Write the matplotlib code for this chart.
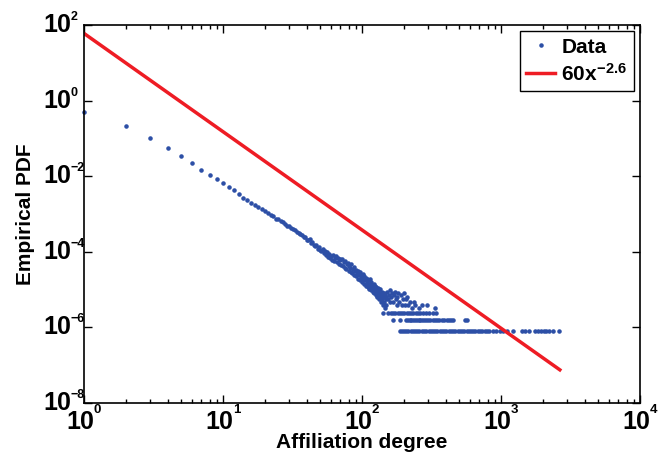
import matplotlib
matplotlib.use("Agg")
import matplotlib.pyplot as plt
import matplotlib.transforms as mtrans
from matplotlib.ticker import LogLocator, NullFormatter, NullLocator, FixedLocator
import numpy as np

plt.rcParams["font.family"] = ["Liberation Sans", "DejaVu Sans"]
plt.rcParams["font.weight"] = "bold"
plt.rcParams["mathtext.fontset"] = "custom"
plt.rcParams["mathtext.rm"] = "Liberation Sans:bold"
plt.rcParams["mathtext.bf"] = "Liberation Sans:bold"
plt.rcParams["mathtext.it"] = "Liberation Sans:bold"

# empirical pdf for low degrees
head_deg = list(range(1, 60))
head_pdf = [0.49, 0.21, 0.10, 0.056, 0.034, 0.022, 0.015, 0.011, 0.0082, 0.0065,
            0.0051, 0.0042, 0.0033, 0.0027, 0.0023, 0.0019, 0.0017, 0.0015, 1.32e-3, 1.17e-3,
            1.07e-3, 9.3e-4, 8.7e-4, 7.6e-4, 7.2e-4, 6.5e-4, 6.0e-4, 5.6e-4, 4.9e-4, 4.7e-4,
            4.2e-4, 4.0e-4, 3.8e-4, 3.3e-4, 3.2e-4, 2.95e-4, 2.8e-4, 2.45e-4, 2.5e-4, 2.1e-4,
            2.0e-4, 2.15e-4, 1.7e-4, 1.8e-4, 1.55e-4, 1.4e-4, 1.55e-4, 1.2e-4, 1.35e-4, 1.12e-4,
            1.05e-4, 1.2e-4, 9.3e-5, 1.04e-4, 8.3e-5, 9.6e-5, 7.5e-5, 8.8e-5, 6.9e-5]

# higher degrees as node counts; one node = one pdf step
unit = 8e-7
mid_deg = list(range(60, 151))
mid_count = [95, 78, 104, 70, 88, 98, 66, 84, 60, 80,
             74, 56, 82, 52, 66, 48, 70, 44, 58, 62,
             40, 54, 46, 36, 58, 34, 44, 30, 50, 38,
             28, 42, 33, 24, 38, 30, 22, 36, 26, 31,
             20, 32, 24, 18, 28, 22, 16, 26, 19, 24,
             15, 22, 18, 13, 24, 16, 12, 20, 14, 17,
             11, 18, 13, 10, 16, 12, 9, 15, 11, 8,
             14, 10, 7, 12, 9, 13, 6, 10, 8, 11,
             7, 9, 5, 10, 6, 8, 4, 9, 7, 5, 8]
scatter_deg = [152, 154, 156, 158, 160, 162, 165, 167, 170, 172, 175, 178, 180, 183, 186,
               190, 193, 196, 200, 204, 208, 212, 216, 222, 228, 235, 242, 255, 270, 293, 335]
scatter_count = [11, 7, 9, 6, 12, 8, 10, 6, 9, 11, 7, 5, 8, 10, 6,
                 9, 5, 7, 10, 5, 7, 8, 5, 6, 4, 6, 5, 4, 5, 5, 4]
deg_count3 = [142, 155, 161, 168, 174, 181, 188, 195, 202, 210, 218, 226, 234, 243, 252,
              262, 275, 290, 305, 322, 340]
deg_count2 = [167, 188, 207, 214, 220, 227, 233, 240, 247, 255, 263, 271, 280, 290, 300,
              311, 322, 334, 346, 360, 374, 390, 406, 422, 440, 450, 550, 570]
deg_count1 = [187, 194, 201, 208, 216, 224, 232, 241, 250, 259, 269, 279, 290, 301, 312,
              324, 336, 349, 362, 376, 390, 405, 420, 436, 452, 469, 487, 505, 524, 544,
              565, 586, 608, 631, 655, 680, 706, 733, 761, 790, 825, 870, 920, 980, 1040,
              1100, 1210, 1420, 1500, 1580, 1760, 1850, 1940, 2030, 2120, 2210, 2350, 2620]

fit_coef = 60
fit_exp = -2.6
fit_x = [1, 2650]

x_decades = [0, 1, 2, 3, 4]
y_decades = [-8, -6, -4, -2, 0, 2]

deg = np.array(head_deg + mid_deg + scatter_deg + deg_count3 + deg_count2 + deg_count1, float)
pdf = np.concatenate([
    head_pdf,
    np.array(mid_count + scatter_count) * unit,
    np.full(len(deg_count3), 3 * unit),
    np.full(len(deg_count2), 2 * unit),
    np.full(len(deg_count1), 1 * unit),
])

fig = plt.figure(figsize=(6.65, 4.59), dpi=100)
ax = fig.add_axes([0.1263, 0.122, 0.8361, 0.8235])

ax.loglog(deg, pdf, ".", color="#2d4fa6", markersize=4.5, label="Data", clip_on=False)
fx = np.array(fit_x, float)
ax.loglog(fx, fit_coef * fx ** fit_exp, "-", color="#ee1c24", linewidth=2.5,
          label=r"$60x^{-2.6}$")

ax.set_xlim(1, 1e4)
ax.set_ylim(1e-8, 1e2)
ax.xaxis.set_major_locator(FixedLocator([10.0 ** k for k in x_decades]))
ax.yaxis.set_major_locator(FixedLocator([10.0 ** k for k in y_decades]))
ax.xaxis.set_minor_locator(LogLocator(base=10, subs=np.arange(2, 10), numticks=20))
ax.yaxis.set_minor_locator(NullLocator())
ax.xaxis.set_major_formatter(NullFormatter())
ax.yaxis.set_major_formatter(NullFormatter())
ax.xaxis.set_minor_formatter(NullFormatter())

ax.tick_params(which="both", direction="in", top=True, right=True, width=1)
ax.tick_params(which="major", length=6)
ax.tick_params(which="minor", length=3)
for s in ax.spines.values():
    s.set_linewidth(1.2)


def shift(dx_px, dy_px):
    return mtrans.ScaledTranslation(dx_px / 100, dy_px / 100, fig.dpi_scale_trans)


# matlab-style tick labels: big "10" with a small exponent
xt = mtrans.blended_transform_factory(ax.transData, ax.transAxes)
for k in x_decades:
    ax.text(10.0 ** k, 0, "10", fontsize=18, ha="center", va="top",
            transform=xt + shift(-4, -7))
    ax.text(10.0 ** k, 0, "%d" % k, fontsize=9.5, ha="left", va="top",
            transform=xt + shift(10, -1))
yt = mtrans.blended_transform_factory(ax.transAxes, ax.transData)
for k in y_decades:
    ax.text(0, 10.0 ** k, "10", fontsize=18, ha="right", va="center",
            transform=yt + shift(-13, 0))
    ax.text(0, 10.0 ** k, "%d" % k if k >= 0 else "\u2212%d" % -k, fontsize=9,
            ha="left", va="top", transform=yt + shift(-13, 14))

ax.set_xlabel("Affiliation degree", fontsize=15, fontweight="bold")
ax.set_ylabel("Empirical PDF", fontsize=15, fontweight="bold")
ax.xaxis.set_label_coords(0.5, -0.079)
ax.yaxis.set_label_coords(-0.088, 0.5)

leg = ax.legend(loc="upper right", fontsize=15, fancybox=False, framealpha=1,
                edgecolor="black", borderaxespad=0.3, handlelength=1.4,
                handletextpad=0.3, borderpad=0.3, labelspacing=0.3)
leg.get_frame().set_linewidth(1.0)

plt.savefig("out.png", dpi=100)
